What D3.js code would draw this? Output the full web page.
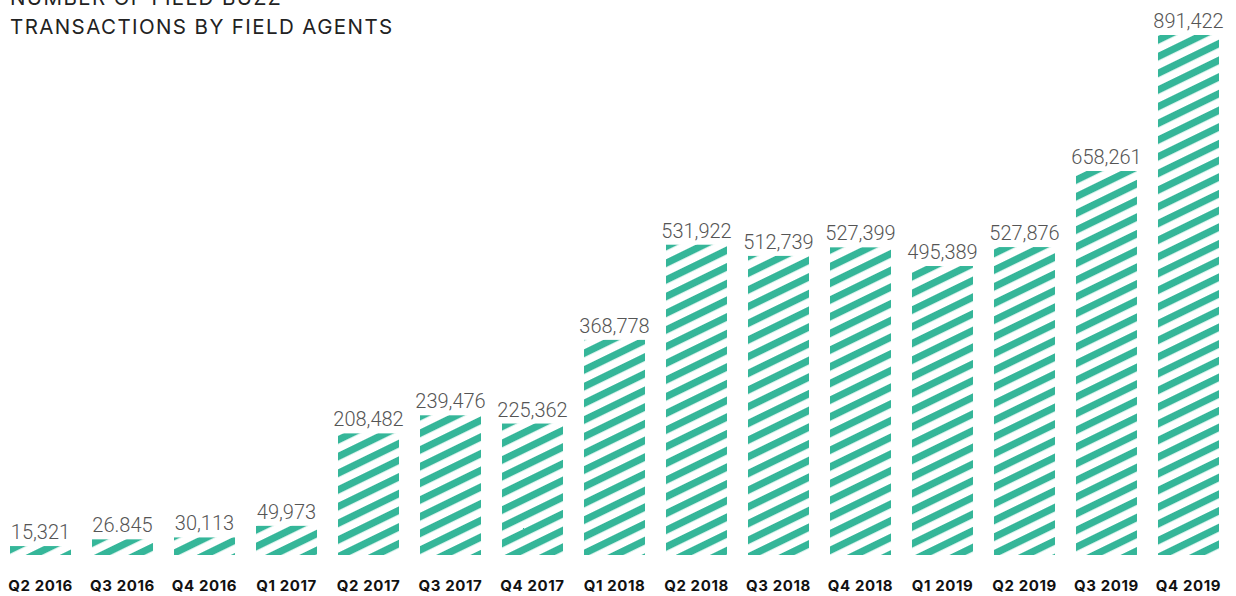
<!DOCTYPE html>
<html>
<head>
<meta charset="utf-8">
<script src="https://cdn.jsdelivr.net/npm/d3@7"></script>
<style>
  body { margin: 0; background: #fff; }
  svg { display: block; }
</style>
</head>
<body>
<svg id="chart" width="1236" height="596"></svg>
<script>
const quarters = ['Q2 2016', 'Q3 2016', 'Q4 2016', 'Q1 2017', 'Q2 2017', 'Q3 2017', 'Q4 2017',
  'Q1 2018', 'Q2 2018', 'Q3 2018', 'Q4 2018', 'Q1 2019', 'Q2 2019', 'Q3 2019', 'Q4 2019'];
const transactions = [15321, 26845, 30113, 49973, 208482, 239476, 225362,
  368778, 531922, 512739, 527399, 495389, 527876, 658261, 891422];
// labels as printed in the original (one uses a dot)
const valueLabels = ['15,321', '26.845', '30,113', '49,973', '208,482', '239,476', '225,362',
  '368,778', '531,922', '512,739', '527,399', '495,389', '527,876', '658,261', '891,422'];
const titleLines = ['NUMBER OF FIELD BUZZ', 'TRANSACTIONS BY FIELD AGENTS'];

const svg = d3.select('#chart');
const teal = '#35b699';

// diagonal stripe fill, wide tile so there are no vertical seams
const defs = svg.append('defs');
const pattern = defs.append('pattern')
  .attr('id', 'stripes')
  .attr('patternUnits', 'userSpaceOnUse')
  .attr('x', -400)
  .attr('width', 2400)
  .attr('height', 15)
  .attr('patternTransform', 'rotate(-26)');
pattern.append('rect')
  .attr('width', 2400)
  .attr('height', 7.2)
  .attr('fill', teal);

const x = d3.scaleBand()
  .domain(quarters)
  .range([10, 1219])
  .paddingInner(0.256)
  .paddingOuter(0);

const y = d3.scaleLinear()
  .domain([0, d3.max(transactions)])
  .range([555, 35]);

const data = quarters.map((q, i) => ({ q, v: transactions[i], label: valueLabels[i] }));

svg.append('g')
  .selectAll('rect')
  .data(data)
  .join('rect')
  .attr('x', (d) => x(d.q))
  .attr('y', (d) => y(d.v))
  .attr('width', x.bandwidth())
  .attr('height', (d) => y(0) - y(d.v))
  .attr('fill', 'url(#stripes)');

svg.append('g')
  .selectAll('text')
  .data(data)
  .join('text')
  .attr('x', (d) => x(d.q) + x.bandwidth() / 2)
  .attr('y', (d) => y(d.v) - 7)
  .attr('text-anchor', 'middle')
  .attr('font-family', 'Roboto, sans-serif')
  .attr('font-weight', 300)
  .attr('font-size', 20)
  .attr('fill', '#555')
  .text((d) => d.label);

// category axis, no line or ticks
const xAxis = svg.append('g')
  .attr('transform', 'translate(0, 591)')
  .call(d3.axisBottom(x).tickSize(0).tickPadding(0));
xAxis.select('.domain').remove();
xAxis.selectAll('text')
  .attr('dy', 0)
  .attr('font-family', 'Inter, sans-serif')
  .attr('font-weight', 700)
  .attr('font-size', 15)
  .attr('letter-spacing', 0.6)
  .attr('fill', '#111');

svg.append('g')
  .selectAll('text')
  .data(titleLines)
  .join('text')
  .attr('x', 10)
  .attr('y', (d, i) => 5 + i * 29)
  .attr('font-family', 'Inter, sans-serif')
  .attr('font-size', 20.5)
  .attr('letter-spacing', 1.4)
  .attr('fill', '#222')
  .text((d) => d);
</script>
</body>
</html>
